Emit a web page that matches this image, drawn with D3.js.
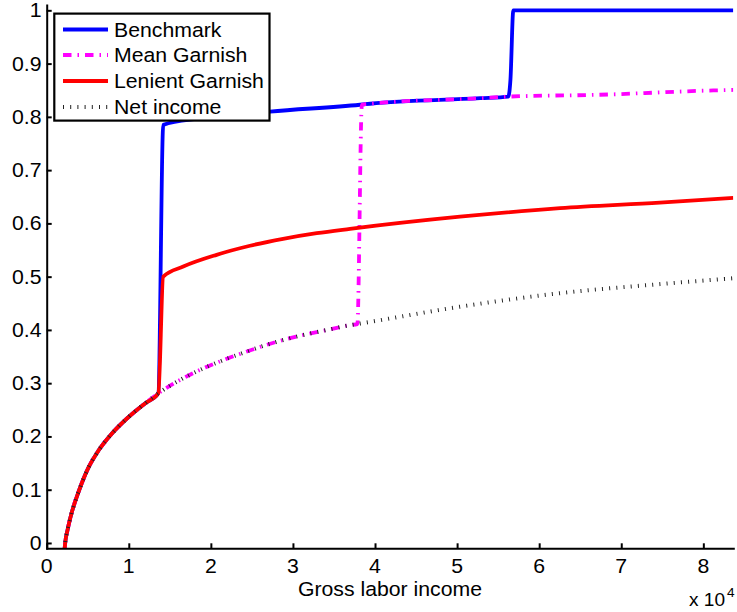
<!DOCTYPE html>
<html>
<head>
<meta charset="utf-8">
<script src="https://cdn.jsdelivr.net/npm/d3@7"></script>
<style>
  html, body { margin: 0; padding: 0; background: #fff; }
  text { font-family: "Liberation Sans", Arial, Helvetica, sans-serif; fill: #000; }
</style>
</head>
<body>
<svg id="chart" width="737" height="612"></svg>
<script>
// ---- data -------------------------------------------------------------
const xTicks = [0, 10000, 20000, 30000, 40000, 50000, 60000, 70000, 80000];
const xTickLabels = ["0", "1", "2", "3", "4", "5", "6", "7", "8"];
const yTicks = [0, 0.1, 0.2, 0.3, 0.4, 0.5, 0.6, 0.7, 0.8, 0.9, 1];
const yTickLabels = ["0", "0.1", "0.2", "0.3", "0.4", "0.5", "0.6", "0.7", "0.8", "0.9", "1"];
const seriesNames = ["Benchmark", "Mean Garnish", "Lenient Garnish", "Net income"];

// net income share by gross labor income
const netIncome = [
  [2180, -0.012], [2250, 0.0], [2550, 0.025], [3050, 0.057], [3950, 0.099],
  [5070, 0.141], [6290, 0.173], [7920, 0.205], [9940, 0.236], [11980, 0.262],
  [13600, 0.281], [16240, 0.306], [18680, 0.325], [21300, 0.342], [23950, 0.357],
  [26400, 0.370], [28800, 0.381], [31700, 0.392], [34500, 0.401], [36950, 0.409],
  [38170, 0.412], [50350, 0.4436], [62540, 0.469], [74700, 0.486], [83650, 0.497]
];
// parts of each scenario above the point where it leaves net income
const benchmarkUpper = [
  [14200, 0.785], [18700, 0.797], [27200, 0.810], [38170, 0.8227], [39400, 0.8246],
  [52800, 0.835], [56240, 0.838], [56500, 0.87], [56850, 1.0], [83650, 1.0]
];
const meanGarnishUpper = [
  [38400, 0.8227], [39400, 0.8246], [52800, 0.835], [56240, 0.838],
  [67400, 0.8415], [81200, 0.8496], [83650, 0.8505]
];
const lenientUpper = [
  [14200, 0.500], [16640, 0.519], [20700, 0.541], [24770, 0.558], [28800, 0.571],
  [32900, 0.5816], [36950, 0.5897], [50350, 0.6125], [62540, 0.6286],
  [74700, 0.639], [83650, 0.648]
];
const benchmarkSplit = 13600, lenientSplit = 13600, meanGarnishSplit = 37850;

const benchmark = netIncome.filter(d => d[0] <= benchmarkSplit).concat(benchmarkUpper);
const meanGarnish = netIncome.filter(d => d[0] <= meanGarnishSplit)
  .concat([[meanGarnishSplit, 0.411]]).concat(meanGarnishUpper);
const lenient = netIncome.filter(d => d[0] <= lenientSplit).concat(lenientUpper);

// ---- layout -------------------------------------------------------------
const svg = d3.select("#chart");
const SX = 1.09;            // horizontal text stretch
const FONT = 19.5;
const plot = { left: 46.7, right: 733.3, top: 5, bottom: 548.3 };

const x = d3.scaleLinear().domain([0, 83650]).range([plot.left, plot.right]);
const y = d3.scaleLinear().domain([-0.01, 1.01]).range([plot.bottom, plot.top]);

function label(parent, px, py, str, size, anchor) {
  return parent.append("text")
    .attr("transform", `translate(${px},${py}) scale(${SX},1)`)
    .attr("font-size", size)
    .attr("text-anchor", anchor)
    .text(str);
}

svg.append("defs").append("clipPath").attr("id", "plotClip")
  .append("rect")
  .attr("x", plot.left).attr("y", plot.top)
  .attr("width", plot.right - plot.left).attr("height", plot.bottom - plot.top);

// ---- series -------------------------------------------------------------
const styles = [
  { data: benchmark, color: "#0000ff", width: 3.8, dash: null },
  { data: meanGarnish, color: "#ff00ff", width: 3.8, dash: "8.5 6 1.5 6" },
  { data: lenient, color: "#ff0000", width: 3.8, dash: null },
  { data: netIncome, color: "#222", width: 4, dash: "1 6.2" }
];

const line = d3.line()
  .x(d => x(d[0]))
  .y(d => y(d[1]))
  .curve(d3.curveMonotoneX);

const lines = svg.append("g").attr("clip-path", "url(#plotClip)");
styles.forEach(s => {
  lines.append("path")
    .attr("d", line(s.data))
    .attr("fill", "none")
    .attr("stroke", s.color)
    .attr("stroke-width", s.width)
    .attr("stroke-linejoin", "round")
    .attr("stroke-dasharray", s.dash);
});

// ---- axes -------------------------------------------------------------
const xAxis = svg.append("g")
  .attr("transform", `translate(0,${plot.bottom})`)
  .call(d3.axisBottom(x).tickValues(xTicks).tickSize(-5).tickSizeOuter(0).tickFormat(""));
const yAxis = svg.append("g")
  .attr("transform", `translate(${plot.left},0)`)
  .call(d3.axisLeft(y).tickValues(yTicks).tickSize(-5).tickSizeOuter(0).tickFormat(""));
[xAxis, yAxis].forEach(a => {
  a.select(".domain").attr("stroke", "#000").attr("stroke-width", 2).attr("stroke-linecap", "square");
  a.selectAll(".tick line").attr("stroke", "#000").attr("stroke-width", 2);
});

xTicks.forEach((t, i) => label(svg, x(t), 573, xTickLabels[i], FONT, "middle"));
yTicks.forEach((t, i) => label(svg, 41.5, y(t) + 7, yTickLabels[i], FONT, "end"));

label(svg, x(41825), 596, "Gross labor income", FONT, "middle");
label(svg, 725, 606, "x 10", 17.5, "end");
label(svg, 727, 597, "4", 12.5, "start");

// ---- legend -------------------------------------------------------------
const legend = svg.append("g");
legend.append("rect")
  .attr("x", 54.3).attr("y", 13.6)
  .attr("width", 215.2).attr("height", 107)
  .attr("fill", "#fff").attr("stroke", "#000").attr("stroke-width", 2.2);

const rowY = [29.5, 55, 81, 107];
seriesNames.forEach((name, i) => {
  const s = styles[i];
  legend.append("line")
    .attr("x1", 63).attr("x2", 108)
    .attr("y1", rowY[i]).attr("y2", rowY[i])
    .attr("stroke", s.color)
    .attr("stroke-width", s.width)
    .attr("stroke-dasharray", s.dash);
  label(legend, 114, rowY[i] + 7, name, FONT, "start");
});
</script>
</body>
</html>
